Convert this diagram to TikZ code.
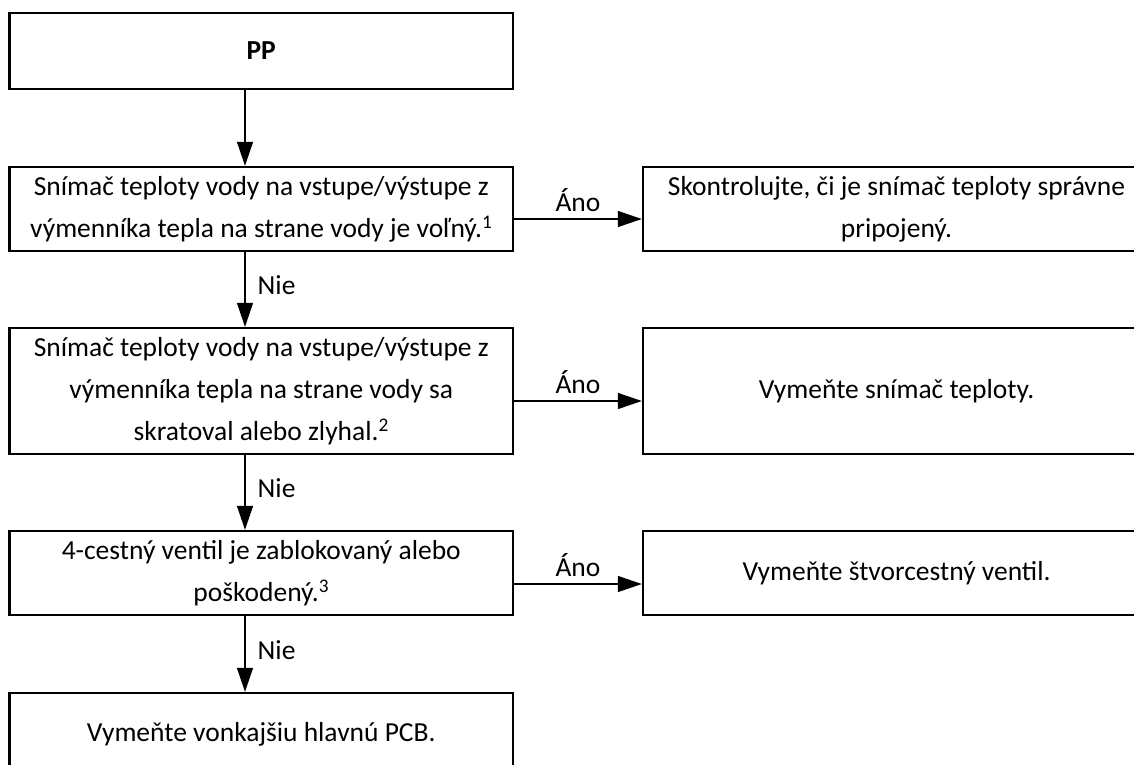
\documentclass[tikz,border=0pt]{standalone}
\usepackage{fontspec}
\setmainfont{Carlito}
\usetikzlibrary{arrows.meta}
\begin{document}
\begin{tikzpicture}[x=1pt,y=-1pt,
  box/.style={draw, line width=2.4pt, align=center, inner sep=0pt, font=\fontsize{27.5}{42}\selectfont},
  lbl/.style={inner sep=0pt, font=\fontsize{27.5}{33}\selectfont},
  arr/.style={line width=1.4pt, -{Triangle[length=24pt,width=16pt]}}]
\useasboundingbox (0,0) rectangle (1134,764);
\clip (0,0) rectangle (1134,764);
\node[box, minimum width=503.5pt, minimum height=76pt] (pp) at (261.25,51) {\textbf{PP}};
\node[box, minimum width=503.5pt, minimum height=84pt] (q1) at (261.25,209) {Snímač teploty vody na vstupe/výstupe z\\výmenníka tepla na strane vody je voľný.\textsuperscript{1}};
\node[box, minimum width=503.5pt, minimum height=126pt] (q2) at (261.25,391) {Snímač teploty vody na vstupe/výstupe z\\výmenníka tepla na strane vody sa\\skratoval alebo zlyhal.\textsuperscript{2}};
\node[box, minimum width=503.5pt, minimum height=84pt] (q3) at (261.25,573) {4-cestný ventil je zablokovaný alebo\\poškodený.\textsuperscript{3}};
\node[box, minimum width=503.5pt, minimum height=82pt] (e4) at (261.25,734) {Vymeňte vonkajšiu hlavnú PCB.};
\node[box, minimum width=507pt, minimum height=84pt] (r1) at (896.5,209) {Skontrolujte, či je snímač teploty správne\\pripojený.};
\node[box, minimum width=507pt, minimum height=126pt] (r2) at (896.5,391) {Vymeňte snímač teploty.};
\node[box, minimum width=507pt, minimum height=84pt] (r3) at (896.5,573) {Vymeňte štvorcestný ventil.};
\coordinate (ax) at (245,0);
\draw[arr] (pp.south -| ax) -- (q1.north -| ax);
\draw[arr] (q1.south -| ax) -- node[lbl, midway, anchor=west, xshift=12pt, yshift=4pt] {Nie} (q2.north -| ax);
\draw[arr] (q2.south -| ax) -- node[lbl, midway, anchor=west, xshift=12pt, yshift=4pt] {Nie} (q3.north -| ax);
\draw[arr] (q3.south -| ax) -- node[lbl, midway, anchor=west, xshift=12pt, yshift=4pt] {Nie} (e4.north -| ax);
\draw[arr] ([yshift=-10pt]q1.east) -- node[lbl, midway, anchor=base, yshift=8pt] {Áno} ([yshift=-10pt]r1.west);
\draw[arr] ([yshift=-10pt]q2.east) -- node[lbl, midway, anchor=base, yshift=8pt] {Áno} ([yshift=-10pt]r2.west);
\draw[arr] ([yshift=-11pt]q3.east) -- node[lbl, midway, anchor=base, yshift=8pt] {Áno} ([yshift=-11pt]r3.west);
\end{tikzpicture}
\end{document}
